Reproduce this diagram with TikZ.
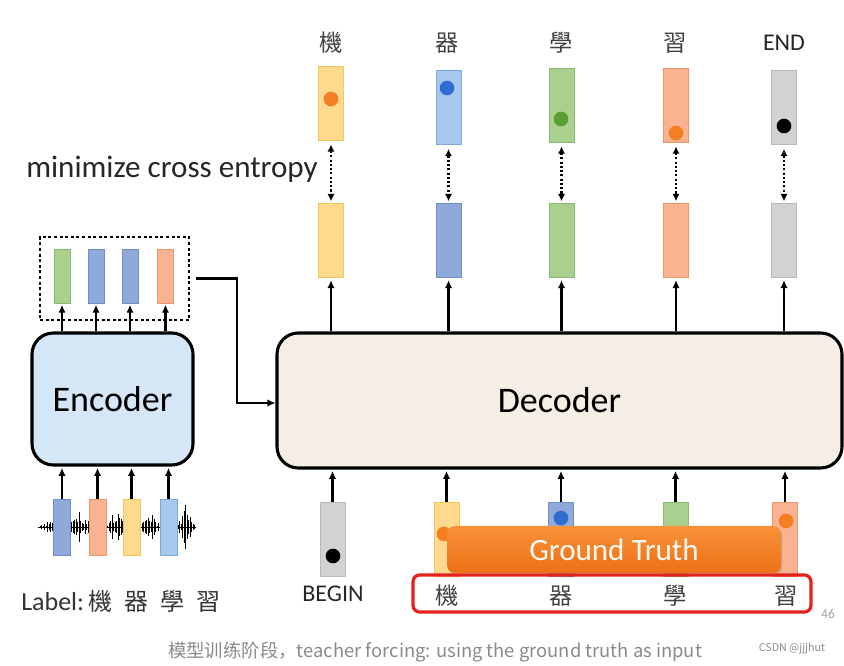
\documentclass[tikz,border=0pt]{standalone}
\usepackage{fontspec}
\setmainfont{Carlito}
\newfontfamily\cjk{Noto Sans CJK TC}
\newfontfamily\cjksc{Noto Sans CJK SC}
\usetikzlibrary{arrows.meta,shadows}

\definecolor{cyel}{HTML}{FFD98E}
\definecolor{cyelb}{HTML}{F3C65C}
\definecolor{cblu}{HTML}{8FA9DB}
\definecolor{cblub}{HTML}{6F8DC9}
\definecolor{cltb}{HTML}{A6C8EC}
\definecolor{cltbb}{HTML}{7BA9DC}
\definecolor{cgrn}{HTML}{A9D08F}
\definecolor{cgrnb}{HTML}{8BB873}
\definecolor{csal}{HTML}{F9B390}
\definecolor{csalb}{HTML}{EF956B}
\definecolor{cgry}{HTML}{D2D2D2}
\definecolor{cgryb}{HTML}{B9B9B9}
\definecolor{corg}{HTML}{F47F22}
\definecolor{corgt}{HTML}{F8923A}
\definecolor{corgb}{HTML}{EC7016}
\definecolor{cdot}{HTML}{2F6ED1}
\definecolor{cgdot}{HTML}{5B9E34}
\definecolor{cenc}{HTML}{D5E6F6}
\definecolor{cdec}{HTML}{F4EEE5}
\definecolor{cred}{HTML}{E5211B}
\definecolor{ccap}{HTML}{8A8A8A}

\tikzset{
  vec/.style={draw, line width=0.6pt, inner sep=0pt, minimum width=18.75pt, minimum height=55.5pt},
  encvec/.style={draw, line width=0.6pt, inner sep=0pt, minimum width=12pt, minimum height=40.5pt},
  ball/.style={circle, fill, inner sep=0pt, minimum size=11pt},
  arr/.style={line width=1.6pt, -{Latex[length=6pt,width=5.5pt]}},
  dotarr/.style={line width=1.8pt, dash pattern=on 1.6pt off 1.6pt, {Latex[length=5.5pt,width=5.5pt]}-{Latex[length=5.5pt,width=5.5pt]}, shorten <=3pt, shorten >=1pt},
  block/.style={draw, line width=2.3pt, rounded corners=16pt, inner sep=0pt},
  word/.style={font=\cjk\fontsize{17.5}{17.5}\selectfont, text=black!75, inner sep=0.75pt},
  tag/.style={font=\fontsize{18}{18}\selectfont, text=black!85, inner sep=0.75pt},
}

\begin{document}
\begin{tikzpicture}[x=0.75pt,y=0.75pt,yscale=-1,xscale=1]
\useasboundingbox (0,0) rectangle (844,666);

%Output labels
\node[word] (w1) at (331,43) {機};
\node[word] (w2) at (447,43) {器};
\node[word] (w3) at (561,43) {學};
\node[word] (w4) at (675,43) {習};
\node[tag] (w5) at (784,43) {END};

%Target vectors
\node[vec, fill=cyel, draw=cyelb] (t1) at (331,103) {};
\node[vec, fill=cltb, draw=cltbb] (t2) at (448.5,107.5) {};
\node[vec, fill=cgrn, draw=cgrnb] (t3) at (561.5,105) {};
\node[vec, fill=csal, draw=csalb] (t4) at (676,105) {};
\node[vec, fill=cgry, draw=cgryb] (t5) at (784,107.5) {};
\node[ball, fill=corg] (d1) at (331,99) {};
\node[ball, fill=cdot] (d2) at (447,88) {};
\node[ball, fill=cgdot] (d3) at (561,119) {};
\node[ball, fill=corg] (d4) at (676,133) {};
\node[ball, fill=black] (d5) at (784,126) {};

% Text Node
\node[anchor=west, inner sep=0.75pt, font=\fontsize{23.3}{23.3}\selectfont, text=black!85] (ce) at (25,169) {minimize cross entropy};

%Decoder outputs
\node[vec, fill=cyel, draw=cyelb] (m1) at (331,240) {};
\node[vec, fill=cblu, draw=cblub] (m2) at (448.5,240) {};
\node[vec, fill=cgrn, draw=cgrnb] (m3) at (561.5,240) {};
\node[vec, fill=csal, draw=csalb] (m4) at (676,240) {};
\node[vec, fill=cgry, draw=cgryb] (m5) at (784,240) {};

\foreach \i in {1,...,5}
  \draw[dotarr] (t\i.south) -- (m\i.north);

%Decoder
\node[block, fill=cdec, minimum width=423.75pt, minimum height=101.25pt,
      font=\fontsize{27}{27}\selectfont] (dec) at (559.5,400.5) {Decoder};

\foreach \i in {1,...,5}
  \draw[arr, shorten >=2pt] (m\i.south |- dec.north) -- (m\i.south);

%Encoder
\node[block, fill=cenc, minimum width=120.75pt, minimum height=99pt,
      font=\fontsize{27}{27}\selectfont] (enc) at (112.5,399) {Encoder};

%Encoder outputs
\node[draw, line width=2.2pt, dash pattern=on 2.2pt off 2pt, inner sep=0pt,
      minimum width=111.75pt, minimum height=62.25pt] (mem) at (114.5,278.5) {};
\node[encvec, fill=cgrn, draw=cgrnb] (h1) at (62,276) {};
\node[encvec, fill=cblu, draw=cblub] (h2) at (96,276) {};
\node[encvec, fill=cblu, draw=cblub] (h3) at (130,276) {};
\node[encvec, fill=csal, draw=csalb] (h4) at (165.5,276) {};
\foreach \i in {1,...,4}
  \draw[arr, shorten >=1pt] (h\i.south |- enc.north) -- (h\i.south);

%Straight Lines: memory to decoder
\coordinate (turn) at (237,403);
\draw[arr] ([xshift=4.5pt]mem.east) -| (turn) -- (dec.west |- turn);

%Waveform
\pgfmathsetseed{11}
\foreach \i in {0,...,103} {
  \pgfmathsetmacro\xx{40+1.5*\i}
  \pgfmathsetmacro\aa{(1.5+8*exp(-((\xx-50)/5)^2)+14*exp(-((\xx-80)/8)^2)+17*exp(-((\xx-116)/7)^2)+13*exp(-((\xx-150)/7)^2)+25*exp(-((\xx-186)/6)^2))*(0.2+0.8*rnd)}
  \draw[line width=0.7pt] (\xx,527-\aa) -- (\xx,527+\aa);
}
\draw[line width=0.7pt] (38,527) -- (196,527);

%Encoder inputs
\node[encvec, fill=cblu, draw=cblub, minimum width=12.75pt, minimum height=42pt] (x1) at (62,527) {};
\node[encvec, fill=csal, draw=csalb, minimum width=12.75pt, minimum height=42pt] (x2) at (97.5,527) {};
\node[encvec, fill=cyel, draw=cyelb, minimum width=12.75pt, minimum height=42pt] (x3) at (131.5,527) {};
\node[encvec, fill=cltb, draw=cltbb, minimum width=12.75pt, minimum height=42pt] (x4) at (168.5,527) {};
\foreach \i in {1,...,4}
  \draw[arr, shorten >=1pt] (x\i.north) -- (x\i.north |- enc.south);

% Text Node
\node[anchor=west, inner sep=0.75pt, text=black!80] (lab) at (20,601)
  {\fontsize{19.5}{19.5}\selectfont Label:\,\cjk\fontsize{18}{18}\selectfont 機\hspace{9pt}器\hspace{9pt}學\hspace{9pt}習};

%Decoder inputs
\node[vec, fill=cgry, draw=cgryb] (b1) at (332.5,539) {};
\node[vec, fill=cyel, draw=cyelb] (b2) at (446.5,539) {};
\node[vec, fill=cblu, draw=cblub] (b3) at (561,539) {};
\node[vec, fill=cgrn, draw=cgrnb] (b4) at (675.5,539) {};
\node[vec, fill=csal, draw=csalb] (b5) at (785,539) {};
\node[ball, fill=black] (e1) at (333,556) {};
\node[ball, fill=corg] (e2) at (444,534) {};
\node[ball, fill=cdot] (e3) at (561,518) {};
\node[ball, fill=corg] (e5) at (786,521) {};
\foreach \i in {1,...,5}
  \draw[arr, shorten >=1pt] (b\i.north) -- (b\i.north |- dec.south);

%Ground truth
\node[top color=corgt, bottom color=corgb, rounded corners=6pt, inner sep=0pt, minimum width=250.5pt, minimum height=35.25pt,
      drop shadow={opacity=0.3, shadow xshift=1pt, shadow yshift=-1.5pt},
      text=white!95!orange, font=\fontsize{23.3}{23.3}\selectfont] (gt) at (614,549.5) {Ground Truth};

%Red frame
\node[draw=cred, line width=2.4pt, rounded corners=5pt, inner sep=0pt,
      minimum width=298.5pt, minimum height=27.75pt] (frame) at (612,593.5) {};
\node[tag] (begin) at (333,594) {BEGIN};
\node[word] (g1) at (447,596) {機};
\node[word] (g2) at (561,596) {器};
\node[word] (g3) at (675,596) {學};
\node[word] (g4) at (786,596) {習};

% Text Node
\node[text=ccap!80, font=\fontsize{10}{10}\selectfont] (page) at (828,614) {46};
\node[text=ccap, font=\cjksc\fontsize{13.8}{13.8}\selectfont] (cap) at (435,652) {模型训练阶段，teacher forcing: using the ground truth as input};
\node[text=ccap, font=\cjksc\fontsize{8}{8}\selectfont] (mark) at (792,649) {CSDN @jjjhut};

\end{tikzpicture}
\end{document}
